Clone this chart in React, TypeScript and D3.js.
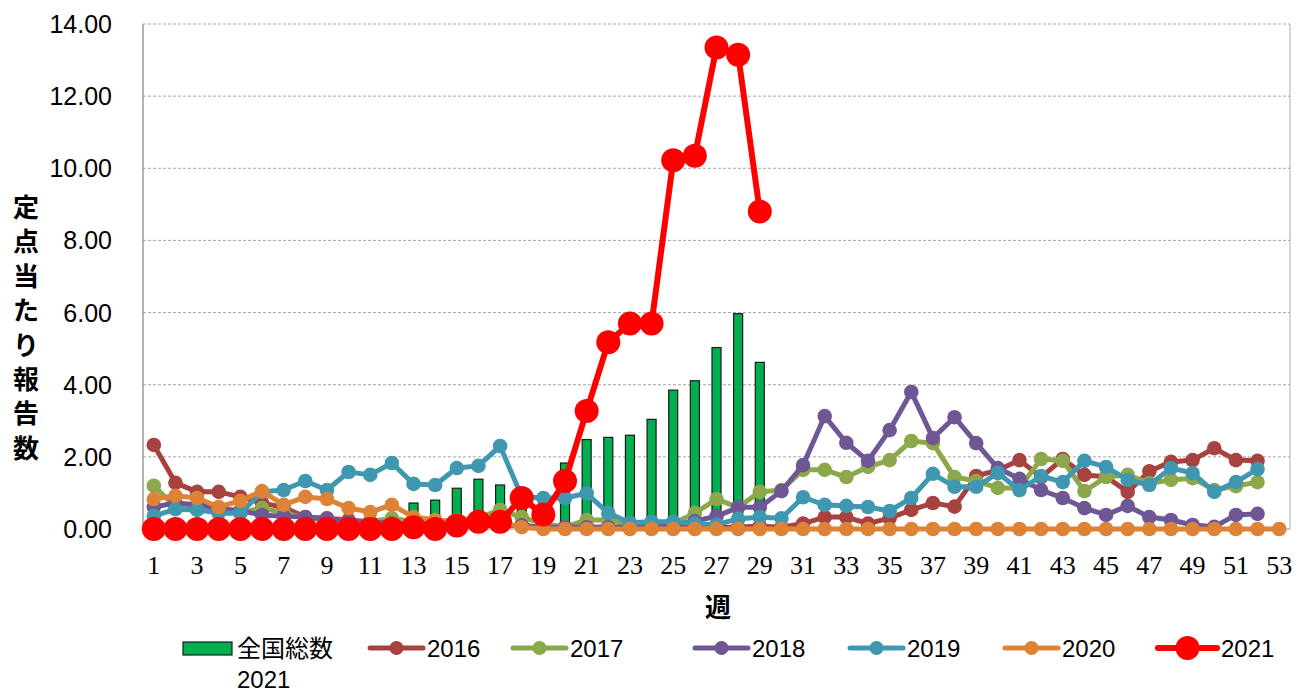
import { useEffect, useRef } from "react";
import * as d3 from "d3";

// weeks 1..53
const weeks = d3.range(1, 54);
const tickWeeks = weeks.filter((w) => w % 2 === 1);
const yTicks = [0, 2, 4, 6, 8, 10, 12, 14];

// 全国総数 2021 (bars)
const national2021 = [
  0.25, 0.25, 0.25, 0.25, 0.2, 0.2, 0.2, 0.2, 0.2, 0.2, 0.2, 0.25, 0.72, 0.8, 1.13, 1.38, 1.22, 0.9, 0.9,
  1.83, 2.48, 2.54, 2.6, 3.04, 3.85, 4.11, 5.03, 5.97, 4.62,
];

const s2016 = [
  2.33, 1.28, 1.03, 1.03, 0.89, 0.72, 0.6, 0.33, 0.3, 0.25, 0.2, 0.2, 0.15, 0.15, 0.1, 0.1, 0.1, 0.1, 0.05,
  0.05, 0.05, 0.05, 0.05, 0.05, 0.05, 0.05, 0.05, 0.05, 0.08, 0.05, 0.15, 0.33, 0.33, 0.15, 0.3, 0.53, 0.72,
  0.62, 1.47, 1.63, 1.91, 1.44, 1.94, 1.5, 1.45, 1.03, 1.6, 1.86, 1.91, 2.24, 1.91, 1.89,
];
const s2017 = [
  1.2, 0.6, 0.55, 0.5, 0.45, 0.58, 0.45, 0.3, 0.25, 0.2, 0.2, 0.3, 0.2, 0.2, 0.25, 0.3, 0.53, 0.33, 0.15,
  0.05, 0.25, 0.25, 0.1, 0.15, 0.15, 0.44, 0.83, 0.6, 1.03, 1.08, 1.64, 1.64, 1.44, 1.72, 1.91, 2.44, 2.38,
  1.44, 1.33, 1.14, 1.14, 1.94, 1.89, 1.05, 1.44, 1.5, 1.27, 1.36, 1.41, 1.08, 1.19, 1.3,
];
const s2018 = [
  0.61, 0.72, 0.67, 0.58, 0.5, 0.39, 0.35, 0.33, 0.28, 0.2, 0.2, 0.15, 0.15, 0.15, 0.1, 0.1, 0.1, 0.1, 0.05,
  0.05, 0.05, 0.05, 0.05, 0.05, 0.1, 0.22, 0.35, 0.6, 0.6, 1.05, 1.77, 3.13, 2.39, 1.89, 2.74, 3.8, 2.52,
  3.1, 2.38, 1.69, 1.39, 1.08, 0.86, 0.58, 0.39, 0.64, 0.33, 0.25, 0.11, 0.06, 0.39, 0.42,
];
const s2019 = [
  0.36, 0.55, 0.53, 0.44, 0.44, 1.03, 1.08, 1.33, 1.08, 1.58, 1.5, 1.83, 1.25, 1.22, 1.69, 1.75, 2.3, 0.9,
  0.86, 0.86, 0.99, 0.44, 0.17, 0.2, 0.2, 0.15, 0.12, 0.28, 0.33, 0.3, 0.88, 0.67, 0.64, 0.61, 0.5, 0.86,
  1.53, 1.17, 1.17, 1.55, 1.08, 1.47, 1.3, 1.89, 1.72, 1.36, 1.22, 1.69, 1.55, 1.03, 1.3, 1.66,
];
const s2020 = [
  0.83, 0.92, 0.86, 0.61, 0.78, 1.05, 0.67, 0.89, 0.83, 0.58, 0.47, 0.67, 0.33, 0.25, 0.2, 0.15, 0.2, 0.05,
  0, 0, 0, 0, 0, 0, 0, 0, 0, 0, 0, 0, 0, 0, 0, 0, 0, 0, 0, 0, 0, 0, 0, 0, 0, 0, 0, 0, 0, 0, 0, 0, 0, 0, 0,
];
const s2021 = [
  0, 0, 0, 0, 0, 0, 0, 0, 0, 0, 0, 0, 0.05, 0, 0.1, 0.2, 0.2, 0.86, 0.4, 1.33, 3.27, 5.18, 5.7, 5.7, 10.22,
  10.35, 13.35, 13.15, 8.8,
];

const seriesNames = ["2016", "2017", "2018", "2019", "2020", "2021"];
const seriesValues = [s2016, s2017, s2018, s2019, s2020, s2021];
const seriesColors = ["#A8423E", "#8CA84A", "#6F5694", "#3F98B0", "#DE8236", "#FF0000"];
const legendX = [370, 513, 695, 850, 1005, 1158];

const App = () => {
  const svgRef = useRef<SVGSVGElement>(null);

  useEffect(() => {
    const svg = d3.select(svgRef.current);
    svg.selectAll("*").remove();

    const left = 143, right = 1290, top = 24, bottom = 529;

    const x = d3.scaleBand<number>().domain(weeks).range([left, right]).padding(0);
    const y = d3.scaleLinear().domain([0, 14]).range([bottom, top]);
    const cx = (w: number) => (x(w) as number) + x.bandwidth() / 2;

    svg.append("rect").attr("width", 1308).attr("height", 693).attr("fill", "#fff");

    // grid
    svg.append("g")
      .selectAll("line")
      .data(yTicks.filter((t) => t > 0))
      .enter()
      .append("line")
      .attr("x1", left)
      .attr("x2", right)
      .attr("y1", (d) => y(d))
      .attr("y2", (d) => y(d))
      .attr("stroke", "#a6a6a6")
      .attr("stroke-width", 1)
      .attr("stroke-dasharray", "3,2");

    // frame: left axis + right border + baseline
    svg.append("line").attr("x1", left).attr("x2", left).attr("y1", top).attr("y2", bottom)
      .attr("stroke", "#8c8c8c").attr("stroke-width", 1.3);
    svg.append("line").attr("x1", right).attr("x2", right).attr("y1", top).attr("y2", bottom)
      .attr("stroke", "#bfbfbf").attr("stroke-width", 1.3);
    svg.append("line").attr("x1", left).attr("x2", right).attr("y1", bottom).attr("y2", bottom)
      .attr("stroke", "#8c8c8c").attr("stroke-width", 1);

    // y tick labels
    svg.append("g")
      .selectAll("text")
      .data(yTicks)
      .enter()
      .append("text")
      .attr("x", 112)
      .attr("y", (d) => y(d) + 9)
      .attr("text-anchor", "end")
      .style("font-family", "'Liberation Sans', Arial, sans-serif")
      .style("font-size", "25px")
      .attr("fill", "#000")
      .text((d) => d.toFixed(2));

    // x tick labels
    svg.append("g")
      .selectAll("text")
      .data(tickWeeks)
      .enter()
      .append("text")
      .attr("x", (d) => cx(d))
      .attr("y", 574)
      .attr("text-anchor", "middle")
      .style("font-family", "'Liberation Serif', 'Times New Roman', serif")
      .style("font-size", "26px")
      .attr("fill", "#000")
      .text((d) => d);

    // axis titles
    const yTitle = "定点当たり報告数".split("");
    svg.append("g")
      .selectAll("text")
      .data(yTitle)
      .enter()
      .append("text")
      .attr("x", 26)
      .attr("y", (_d, i) => 217 + i * 34.4)
      .attr("text-anchor", "middle")
      .style("font-family", "'Noto Sans CJK JP', sans-serif")
      .style("font-size", "26px")
      .style("font-weight", "bold")
      .text((d) => d);

    svg.append("text")
      .attr("x", 718)
      .attr("y", 617)
      .attr("text-anchor", "middle")
      .style("font-family", "'Noto Sans CJK JP', sans-serif")
      .style("font-size", "26px")
      .style("font-weight", "bold")
      .text("週");

    // bars
    const barW = 9;
    svg.append("g")
      .selectAll("rect")
      .data(national2021)
      .enter()
      .append("rect")
      .attr("x", (_d, i) => cx(weeks[i]) - barW / 2)
      .attr("y", (d) => y(d))
      .attr("width", barW)
      .attr("height", (d) => bottom - y(d))
      .attr("fill", "#00B050")
      .attr("stroke", "#1a1a1a")
      .attr("stroke-width", 1.2);

    // lines
    seriesValues.forEach((vals, si) => {
      const big = si === 5;
      const color = seriesColors[si];
      const line = d3.line<number>()
        .x((_d, i) => cx(weeks[i]))
        .y((d) => y(d));
      const g = svg.append("g");
      g.append("path")
        .datum(vals)
        .attr("d", line)
        .attr("fill", "none")
        .attr("stroke", color)
        .attr("stroke-width", big ? 6 : 5)
        .attr("stroke-linejoin", "round");
      g.selectAll("circle")
        .data(vals)
        .enter()
        .append("circle")
        .attr("cx", (_d, i) => cx(weeks[i]))
        .attr("cy", (d) => y(d))
        .attr("r", big ? 12 : 7.3)
        .attr("fill", color);
    });

    // legend
    const ly = 648;
    const lg = svg.append("g");
    lg.append("rect").attr("x", 183).attr("y", 642).attr("width", 49).attr("height", 13)
      .attr("fill", "#00B050").attr("stroke", "#1a1a1a").attr("stroke-width", 1.2);
    lg.append("text").attr("x", 237).attr("y", 657)
      .style("font-family", "'Noto Sans CJK JP', sans-serif").style("font-size", "24px")
      .text("全国総数");
    lg.append("text").attr("x", 237).attr("y", 688)
      .style("font-family", "'Liberation Sans', Arial, sans-serif").style("font-size", "24px")
      .text("2021");

    seriesNames.forEach((name, i) => {
      const big = i === 5;
      const x0 = legendX[i];
      const w = big ? 59 : 53;
      lg.append("line").attr("x1", x0).attr("x2", x0 + w).attr("y1", ly).attr("y2", ly)
        .attr("stroke", seriesColors[i]).attr("stroke-width", big ? 6 : 5)
        .attr("stroke-linecap", "round");
      lg.append("circle").attr("cx", x0 + w / 2).attr("cy", ly).attr("r", big ? 12 : 7)
        .attr("fill", seriesColors[i]);
      lg.append("text").attr("x", x0 + w + 4).attr("y", ly + 9)
        .style("font-family", "'Liberation Sans', Arial, sans-serif").style("font-size", "24px")
        .text(name);
    });
  }, []);

  return (
    <div style={{ position: "absolute", left: 0, top: 0 }}>
      <svg ref={svgRef} width={1308} height={693} style={{ display: "block" }} />
    </div>
  );
};

export default App;
